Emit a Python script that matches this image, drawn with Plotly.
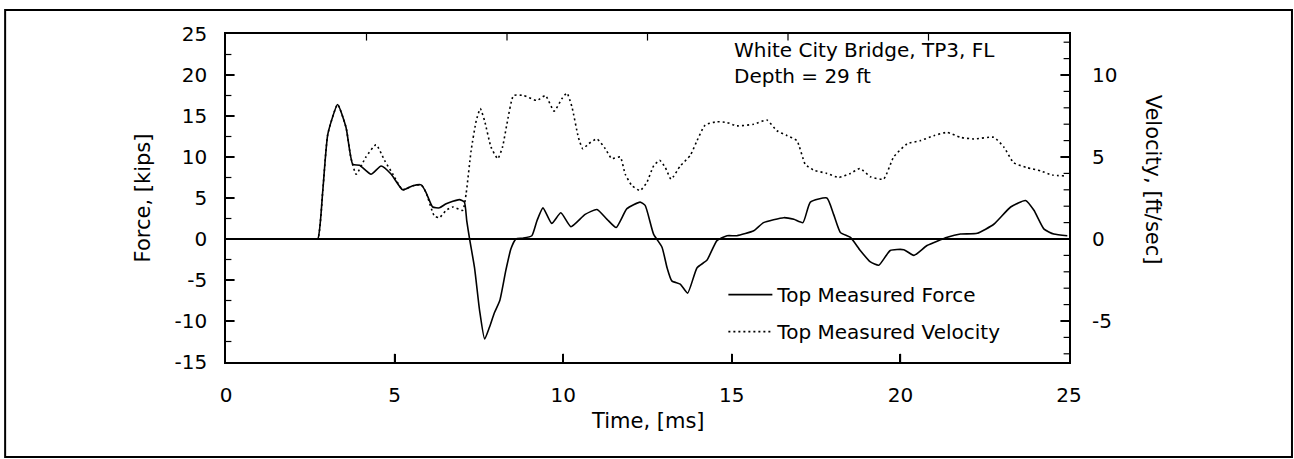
import plotly.graph_objects as go

# Top measured force [kips] vs time [ms]
force_t = [0, 1.0, 2.0, 2.55, 2.72, 2.87, 3.02, 3.31, 3.56, 3.76, 3.96, 4.30, 4.60, 4.90, 5.24,
           5.54, 5.79, 5.93, 6.13, 6.33, 6.53, 6.92, 7.07, 7.14, 7.22, 7.37, 7.52, 7.67,
           7.81, 7.96, 8.12, 8.30, 8.45, 8.60, 8.80, 9.07, 9.22, 9.40, 9.66, 9.93, 10.23,
           10.65, 11.00, 11.30, 11.57, 11.89, 12.28, 12.43, 12.68, 12.93, 13.08, 13.22,
           13.47, 13.69, 13.97, 14.26, 14.56, 14.86, 15.15, 15.65, 15.94, 16.54, 16.84,
           17.11, 17.33, 17.82, 18.02, 18.22, 18.52, 18.81, 19.11, 19.36, 19.70, 20.10,
           20.40, 20.79, 21.39, 21.78, 22.28, 22.77, 23.27, 23.71, 23.96, 24.26, 24.55, 24.95]
force_kips = [0, 0, 0, 0, 0, 5.9, 12.8, 16.4, 13.6, 9.1, 9.0, 7.9, 8.9, 7.9, 6.0,
              6.5, 6.6, 5.7, 3.9, 3.8, 4.3, 4.8, 4.5, 2.2, 0.1, -3.5, -8.7, -12.2,
              -10.8, -9.0, -7.5, -3.8, -1.2, 0.0, 0.1, 0.4, 2.2, 3.8, 1.9, 3.2, 1.5,
              3.0, 3.6, 2.4, 1.4, 3.7, 4.5, 4.1, 0.6, -1.0, -3.5, -5.1,
              -5.5, -6.6, -3.5, -2.6, -0.2, 0.4, 0.4, 1.0, 2.0, 2.6, 2.4,
              2.0, 4.5, 5.0, 3.0, 0.8, 0.2, -1.4, -2.8, -3.2, -1.4, -1.3,
              -2.0, -0.8, 0.2, 0.6, 0.7, 1.8, 3.9, 4.7, 3.5, 1.2, 0.6, 0.4]

# Top measured velocity [ft/sec] vs time [ms]
vel_t = [0, 1.0, 2.0, 2.55, 2.72, 2.87, 3.02, 3.31, 3.56, 3.70, 3.86, 4.15, 4.45, 4.70, 4.95,
         5.24, 5.54, 5.79, 5.93, 6.18, 6.33, 6.53, 6.73, 7.02, 7.12, 7.27, 7.42, 7.54,
         7.67, 7.86, 8.06, 8.20, 8.33, 8.53, 8.82, 9.22, 9.47, 9.73, 9.96, 10.11, 10.26,
         10.45, 10.58, 10.75, 11.00, 11.25, 11.44, 11.69, 11.84, 12.04, 12.28, 12.48,
         12.68, 12.86, 13.03, 13.20, 13.47, 13.77, 13.97, 14.21, 14.56, 14.86, 15.15,
         15.65, 16.04, 16.34, 16.64, 16.93, 17.18, 17.43, 17.82, 18.17, 18.52, 18.80,
         19.11, 19.50, 19.80, 20.20, 20.60, 20.99, 21.39, 21.78, 22.18, 22.77, 23.07,
         23.36, 23.76, 24.16, 24.50, 24.85]
vel_fps = [0, 0, 0, 0, 0, 2.95, 6.4, 8.2, 6.8, 5.0, 3.95, 5.0, 5.75, 4.8, 3.95,
           3.0, 3.25, 3.3, 2.85, 1.4, 1.3, 1.75, 1.95, 1.75, 2.75, 5.4, 7.2, 7.95,
           7.2, 5.6, 4.9, 5.6, 7.0, 8.75, 8.75, 8.45, 8.75, 7.8, 8.55, 8.9, 8.05,
           6.2, 5.5, 5.8, 6.1, 5.5, 4.9, 5.0, 3.95, 3.25, 2.95, 3.45,
           4.45, 4.8, 4.35, 3.65, 4.45, 5.1, 6.0, 6.95, 7.15, 7.1, 6.9,
           7.0, 7.25, 6.6, 6.3, 6.0, 4.55, 4.2, 4.0, 3.75, 4.0, 4.3,
           3.8, 3.65, 5.0, 5.8, 6.0, 6.3, 6.5, 6.2, 6.1, 6.2, 5.6,
           4.65, 4.35, 4.15, 3.9, 3.85]

force_ticks = [-15, -10, -5, 0, 5, 10, 15, 20, 25]
force_minor = [-12.5, -7.5, -2.5, 2.5, 7.5, 12.5, 17.5, 22.5]
vel_ticks = [-5, 0, 5, 10]
vel_minor = [-7, -6, -4, -3, -2, -1, 1, 2, 3, 4, 6, 7, 8, 9, 11, 12]
time_ticks = [0, 5, 10, 15, 20, 25]
top_ticks = [k * 25 / 6 for k in range(1, 6)]

T_MIN, T_MAX = 0, 25
F_MIN, F_MAX = -15, 25
V_MIN, V_MAX = -7.5, 12.5

# tick lengths in data units (time for horizontal ticks, kips for vertical ticks)
T_MAJOR, T_MINOR = 0.26, 0.16
F_MAJOR = 1.0

FONT = "DejaVu Sans"
PAD = "\u00a0\u00a0"

fig = go.Figure()
fig.add_trace(go.Scatter(
    x=force_t, y=force_kips, name="Top Measured Force", mode="lines",
    line=dict(color="black", width=1.6, shape="spline", smoothing=0.5),
    legendgroup="f"))
fig.add_trace(go.Scatter(
    x=vel_t, y=vel_fps, name="Top Measured Velocity", mode="lines", yaxis="y2",
    line=dict(color="black", width=1.6, dash="2px,3px", shape="spline", smoothing=0.5),
    legendgroup="v"))


def h_ticks(x_from, x_to, ys, yaxis="y", width=1.5):
    # short horizontal segments pointing into the plot from a vertical edge
    xs, yy = [], []
    for v in ys:
        xs += [x_from, x_to, None]
        yy += [v, v, None]
    fig.add_trace(go.Scatter(x=xs, y=yy, mode="lines", yaxis=yaxis, showlegend=False,
                             hoverinfo="skip", line=dict(color="black", width=width)))


def v_ticks(xs_in, y_from, y_to, width=1.5):
    # short vertical segments pointing into the plot from a horizontal edge
    xs, yy = [], []
    for v in xs_in:
        xs += [v, v, None]
        yy += [y_from, y_to, None]
    fig.add_trace(go.Scatter(x=xs, y=yy, mode="lines", showlegend=False,
                             hoverinfo="skip", line=dict(color="black", width=width)))


h_ticks(T_MIN, T_MIN + T_MAJOR, force_ticks[1:-1])
h_ticks(T_MIN, T_MIN + T_MINOR, force_minor, width=1.2)
h_ticks(T_MAX - T_MAJOR, T_MAX, vel_ticks, yaxis="y2")
h_ticks(T_MAX - T_MINOR, T_MAX, vel_minor, yaxis="y2", width=1.2)
v_ticks(time_ticks[1:-1], F_MIN, F_MIN + F_MAJOR)
v_ticks(top_ticks, F_MAX, F_MAX - 0.8, width=1.2)

fig.update_layout(
    width=1294, height=459,
    margin=dict(l=226, r=225, t=34, b=97),
    paper_bgcolor="white", plot_bgcolor="white",
    font=dict(family=FONT, size=20, color="black"),
    showlegend=True,
    legend=dict(x=0.59, y=0.265, xanchor="left", yanchor="top",
                bgcolor="rgba(0,0,0,0)", font=dict(size=20), tracegroupgap=8,
                itemwidth=44),
    xaxis=dict(range=[T_MIN, T_MAX], tickvals=time_ticks,
               ticktext=[str(v) for v in time_ticks],
               ticks="inside", ticklen=8, tickwidth=1.5, tickcolor="black",
               showline=True, linecolor="black", linewidth=2, mirror=True,
               showgrid=False, zeroline=False, ticklabelstandoff=14,
               tickfont=dict(size=20)),
    yaxis=dict(range=[F_MIN, F_MAX], tickvals=force_ticks,
               ticktext=[str(v) + PAD for v in force_ticks],
               ticks="inside", ticklen=8, tickwidth=1.5, tickcolor="black",
               showline=True, linecolor="black", linewidth=2, mirror=True,
               showgrid=False,
               zeroline=True, zerolinecolor="black", zerolinewidth=1.5,
               tickfont=dict(size=20)),
    yaxis2=dict(range=[V_MIN, V_MAX], overlaying="y", side="right",
                tickvals=vel_ticks, ticktext=[str(v) for v in vel_ticks],
                ticks="inside", ticklen=8, tickwidth=1.5, tickcolor="black",
                showgrid=False, zeroline=False, showline=False,
                ticklabelstandoff=22, tickfont=dict(size=20)),
    annotations=[
        dict(text="Time, [ms]", x=0.5, y=-0.18, xref="paper", yref="paper",
             showarrow=False, xanchor="center", yanchor="middle",
             font=dict(size=21)),
        dict(text="Force, [kips]", x=-0.098, y=0.5, xref="paper", yref="paper",
             showarrow=False, textangle=-90, xanchor="center", yanchor="middle",
             font=dict(size=21)),
        dict(text="Velocity, [ft/sec]", x=1.1, y=0.555, xref="paper", yref="paper",
             showarrow=False, textangle=90, xanchor="center", yanchor="middle",
             font=dict(size=21)),
        dict(text="White City Bridge, TP3, FL<br>Depth = 29 ft", x=0.6, y=0.995,
             xref="paper", yref="paper", showarrow=False, xanchor="left",
             yanchor="top", align="left", font=dict(size=20)),
    ],
    shapes=[
        dict(type="rect", xref="paper", yref="paper", x0=-0.262, x1=1.2645,
             y0=-0.2896, y1=1.0732, line=dict(color="black", width=2)),
    ],
)

fig.write_html("out.html")
